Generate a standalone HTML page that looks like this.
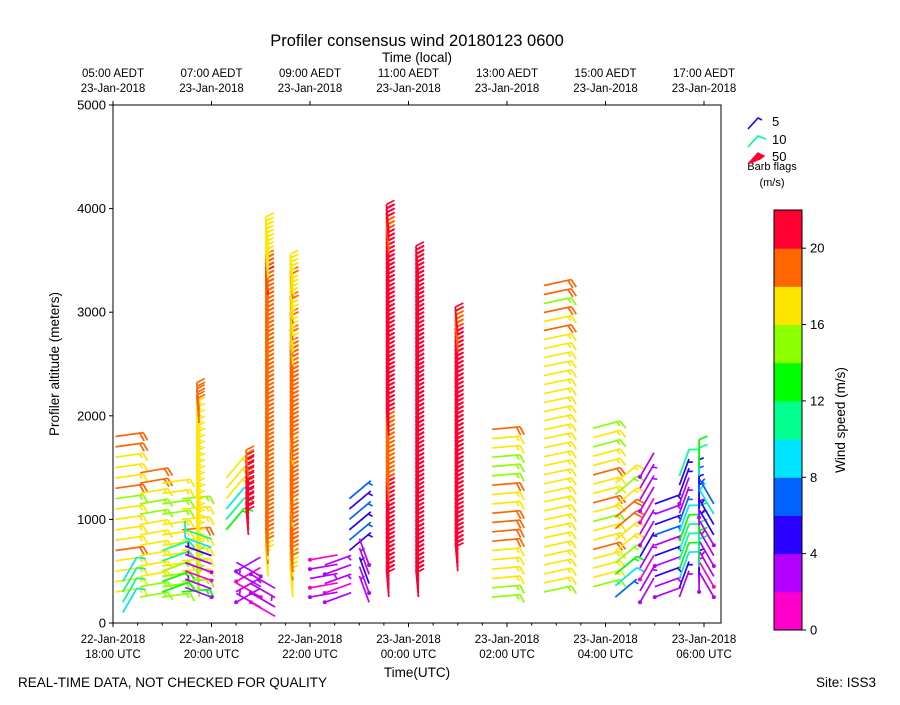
<!DOCTYPE html>
<html><head><meta charset="utf-8">
<style>
body{margin:0;background:#fff;}
svg text{font-family:"Liberation Sans",sans-serif;fill:#000;}
</style></head>
<body>
<svg id="chart" width="900" height="700" viewBox="0 0 900 700" xmlns="http://www.w3.org/2000/svg">
<rect width="900" height="700" fill="#fff"/>
<text x="417" y="46" font-size="16.5" text-anchor="middle">Profiler consensus wind 20180123 0600</text>
<text x="417" y="62" font-size="13.5" text-anchor="middle">Time (local)</text>
<text x="417" y="677" font-size="13.5" text-anchor="middle">Time(UTC)</text>
<text transform="translate(59,364) rotate(-90)" font-size="13.5" text-anchor="middle">Profiler altitude (meters)</text>
<text x="18" y="687" font-size="13.5">REAL-TIME DATA, NOT CHECKED FOR QUALITY</text>
<text x="816" y="687" font-size="13.5">Site: ISS3</text>
<text transform="translate(845,420) rotate(-90)" font-size="13.5" text-anchor="middle">Wind speed (m/s)</text>
<g id="barbs"></g>
<g id="axes"></g>
<g id="legend">
 <text x="772" y="126" font-size="13">5</text>
 <text x="772" y="144" font-size="13">10</text>
 <text x="772" y="161" font-size="13">50</text>
 <text x="772" y="170" font-size="11" text-anchor="middle">Barb flags</text>
 <text x="772" y="186" font-size="11" text-anchor="middle">(m/s)</text>
 <path d="M748,129 L758,118 L762,120" stroke="#2a00ff" stroke-width="1.6" fill="none"/>
 <path d="M748,147 L758,136 L766,139" stroke="#00ff90" stroke-width="1.6" fill="none"/>
 <path d="M748,164 L758,153 L764,156 L760,159 Z" stroke="#ff0030" fill="#ff0030" stroke-width="1.4"/>
</g>
<g id="cbar"></g>
</svg>
<script>
const colHour=[0.05,0.55,1.0,1.4,1.75,2.3,2.75,3.15,3.65,5.6,6.2,7.0,7.7,8.75,9.75,0.2,1.0,2.5,3.0,4.3,4.8,5.2,10.2,10.7,11.0,11.5,11.9,12.2,2.0,2.8,4.0];
const colAltStart=[300,250,250,300,250,900,850,450,250,250,250,500,250,300,350,100,300,200,150,200,700,200,250,200,250,250,300,250,250,200,250];
const colAltStep=[100,100,100,100,60,100,50,40,40,40,40,40,90,87,90,100,100,100,100,90,100,90,110,110,100,90,80,100,80,90,90];
const colAngle=[-8,-10,-8,-5,-95,-50,-95,-95,-95,-95,-95,-95,-5,-12,-15,-60,-20,-30,-150,-20,-40,-110,-40,-60,-20,-70,-90,-120,-160,30,-10];
const colSpeeds=[
[17,16,17,17,18,17,16,17,16,14,18,17,17,16,19,19],
[15,15,16,17,16,17,16,17,14,15,17,18,19],
[14,14,15,16,17,17,17,16,15,14,16,17],
[13,14,16,17,17,16,18,17,16,14],
[14,15,14,15,16,16,17,16,16,17,16,17,16,17,16,16,17,16,17,16,17,16,16,17,16,17,17,16,18,19,19],
[13,10,9,17,16,17],
[20,21,20,21,20,20,21,21,20,21,20,19],
[17,16,17,18,17,18,19,18,19,18,19,19,18,19,18,19,19,18,19,18,19,19,18,19,18,19,18,19,19,18,19,18,19,19,18,19,18,19,19,18,19,18,19,19,18,19,18,19,19,18,19,18,19,18,19,19,18,19,18,19,19,18,19,18,19,19,18,19,20,19,18,19,17,17,16,17,16,17,16,17,16],
[16,17,16,17,18,17,18,19,18,19,18,19,19,18,19,18,19,16,18,19,18,19,19,18,19,18,19,19,18,19,18,19,17,18,19,18,19,18,19,19,18,19,18,19,19,18,19,18,19,19,18,19,18,19,19,18,16,17,18,17,16,17,18,17,16,17,18,17,16,17,16,17,18,17,16,17,16],
[21,20,21,21,20,21,21,21,20,21,21,20,21,21,21,20,21,21,21,20,21,21,20,19,18,19,18,19,18,19,18,19,19,18,19,18,19,18,19,21,21,20,21,21,20,21,21,21,20,21,21,20,21,21,21,20,21,21,20,21,21,21,20,21,21,20,21,21,21,20,21,21,20,21,21,21,20,21,21,20,21,21,20,19,18,19,21,21,21],
[20,21,21,20,21,21,21,20,21,21,20,21,21,21,20,21,21,20,21,21,21,20,21,21,20,21,21,21,20,21,21,20,21,21,21,20,21,21,20,21,21,21,20,21,21,20,21,21,21,20,21,21,20,21,21,21,20,21,21,20,21,21,21,20,21,21,20,21,21,21,20,21,21,20,21,21,21,20,21],
[21,20,21,21,20,21,21,21,20,21,21,20,21,21,21,20,21,21,20,21,21,21,20,21,21,20,21,21,21,20,21,21,20,21,21,21,20,21,21,20,21,21,21,20,21,21,20,21,21,21,20,21,21,19,19,18,19,21],
[15,14,16,16,17,17,18,18,19,18,17,16,19,15,14,14,17,17,19],
[14,16,17,16,17,16,17,16,17,16,17,17,16,17,16,17,16,17,16,17,16,17,16,17,17,16,17,16,17,18,16,19,15,19,18],
[15,16,17,16,18,17,16,15,17,19,16,17,18,16,17,15,16,15],
[9,11,10,8],
[12,13,14,10,11],
[2,3,1,2],
[3,1,3,2],
[2,1,3,2,3],
[5,6,4,7,5,6],
[3,2,4,3,2],
[7,8,13,14,16,17,18,18,17,15,16],
[2,3,1,3,4,2,3,1,2,3,3,2],
[2,3,4,2,5,3,6,4,3,5],
[3,5,8,12,11,10,12,9,6,3,2,4,5,10],
[2,3,5,11,12,11,10,12,3,2,4,5,6,4,11,12],
[2,1,3,2,3,2,4,5,9,6],
[2,3,1,2,3,4,9,11],
[1,2,3,2],
[2,1,3,2,1]
];
const cbarColors=["#ff00cc","#b400ff","#2a00ff","#0062ff","#00e5ff","#00ff8c","#00ff00","#8cff00","#ffe600","#ff6600","#ff0030"];
const yTicks=[0,1000,2000,3000,4000,5000];
const xTickHours=[0,2,4,6,8,10,12];
const xTickDates=["22-Jan-2018","22-Jan-2018","22-Jan-2018","23-Jan-2018","23-Jan-2018","23-Jan-2018","23-Jan-2018"];
const xTickTimes=["18:00 UTC","20:00 UTC","22:00 UTC","00:00 UTC","02:00 UTC","04:00 UTC","06:00 UTC"];
const topTickHours=[0,2,4,6,8,10,12];
const topTickTimes=["05:00 AEDT","07:00 AEDT","09:00 AEDT","11:00 AEDT","13:00 AEDT","15:00 AEDT","17:00 AEDT"];
const topTickDates=["23-Jan-2018","23-Jan-2018","23-Jan-2018","23-Jan-2018","23-Jan-2018","23-Jan-2018","23-Jan-2018"];
const cbarTicks=[0,4,8,12,16,20];

const NS="http://www.w3.org/2000/svg";
const L=113,R=721,T=105,B=623;
const xs=h=>L+h*49.25;
const ys=a=>B-a*(B-T)/5000;
function el(tag,attrs,parent){const e=document.createElementNS(NS,tag);for(const k in attrs)e.setAttribute(k,attrs[k]);parent.appendChild(e);return e;}
function col(s){return cbarColors[Math.max(0,Math.min(10,Math.floor(s/2)))];}
const bg=document.getElementById('barbs');
colHour.forEach((h,ci)=>{
  colSpeeds[ci].forEach((s,i)=>{
    const a=colAltStart[ci]+i*colAltStep[ci];
    const x=xs(h),y=ys(a);
    const ang=colAngle[ci]*Math.PI/180;
    const len=28;
    const ex=x+len*Math.cos(ang),ey=y+len*Math.sin(ang);
    const fa=ang+68*Math.PI/180;
    let d=`M${x.toFixed(1)},${y.toFixed(1)}L${ex.toFixed(1)},${ey.toFixed(1)}`;
    let rem=Math.round(s/5)*5,pos=0;
    const ux=Math.cos(ang),uy=Math.sin(ang);
    while(rem>=10){const bx=ex-ux*pos,by=ey-uy*pos;d+=`M${bx.toFixed(1)},${by.toFixed(1)}l${(9*Math.cos(fa)).toFixed(1)},${(9*Math.sin(fa)).toFixed(1)}`;rem-=10;pos+=3.5;}
    if(rem>=5){const bx=ex-ux*(pos||3.5),by=ey-uy*(pos||3.5);d+=`M${bx.toFixed(1)},${by.toFixed(1)}l${(5*Math.cos(fa)).toFixed(1)},${(5*Math.sin(fa)).toFixed(1)}`;}
    const p=el('path',{d:d,stroke:col(s),'stroke-width':1.7,fill:'none'},bg);
    
    
    if(s<2.5){const c=el('circle',{cx:x,cy:y,r:2,fill:col(s)},bg);
      
      }
  });
});
const ax=document.getElementById('axes');
el('rect',{x:L,y:T,width:R-L,height:B-T,fill:'none',stroke:'#000','stroke-width':1},ax);
yTicks.forEach(v=>{
  el('line',{x1:L-4,x2:L,y1:ys(v),y2:ys(v),stroke:'#000'},ax);
  const t=el('text',{x:L-7,y:ys(v)+4.5,'font-size':13,'text-anchor':'end'},ax);t.textContent=v;
  
  
});
for(let h=0;h<=12.3;h+=0.5){el('line',{x1:xs(h),x2:xs(h),y1:B,y2:B+(h%2===0?4:2.5),stroke:'#000'},ax);}
xTickHours.forEach((h,i)=>{
  const t1=el('text',{x:xs(h),y:643,'font-size':11.5,'text-anchor':'middle'},ax);t1.textContent=xTickDates[i];
  
  
  const t2=el('text',{x:xs(h),y:658,'font-size':11.5,'text-anchor':'middle'},ax);t2.textContent=xTickTimes[i];
  
  
});
topTickHours.forEach((h,i)=>{
  el('line',{x1:xs(h),x2:xs(h),y1:T-4,y2:T,stroke:'#000'},ax);
  const t1=el('text',{x:xs(h),y:77,'font-size':11.5,'text-anchor':'middle'},ax);t1.textContent=topTickTimes[i];
  
  
  const t2=el('text',{x:xs(h),y:92,'font-size':11.5,'text-anchor':'middle'},ax);t2.textContent=topTickDates[i];
  
  
});
const cb=document.getElementById('cbar');
const cT=210,cB=630,cL=774,cW=28;
const cy=v=>cB-v*(cB-cT)/22;
cbarColors.forEach((c,i)=>{
  const r=el('rect',{x:cL,y:cy((i+1)*2),width:cW,height:cy(0)-cy(2)+0.5,fill:c},cb);
  
  
});
el('rect',{x:cL,y:cT,width:cW,height:cB-cT,fill:'none',stroke:'#000'},cb);
cbarTicks.forEach(v=>{
  el('line',{x1:cL+cW,x2:cL+cW+4,y1:cy(v),y2:cy(v),stroke:'#000'},cb);
  const t=el('text',{x:cL+cW+8,y:cy(v)+4.5,'font-size':13},cb);t.textContent=v;
  
  
});
</script>
</body></html>
